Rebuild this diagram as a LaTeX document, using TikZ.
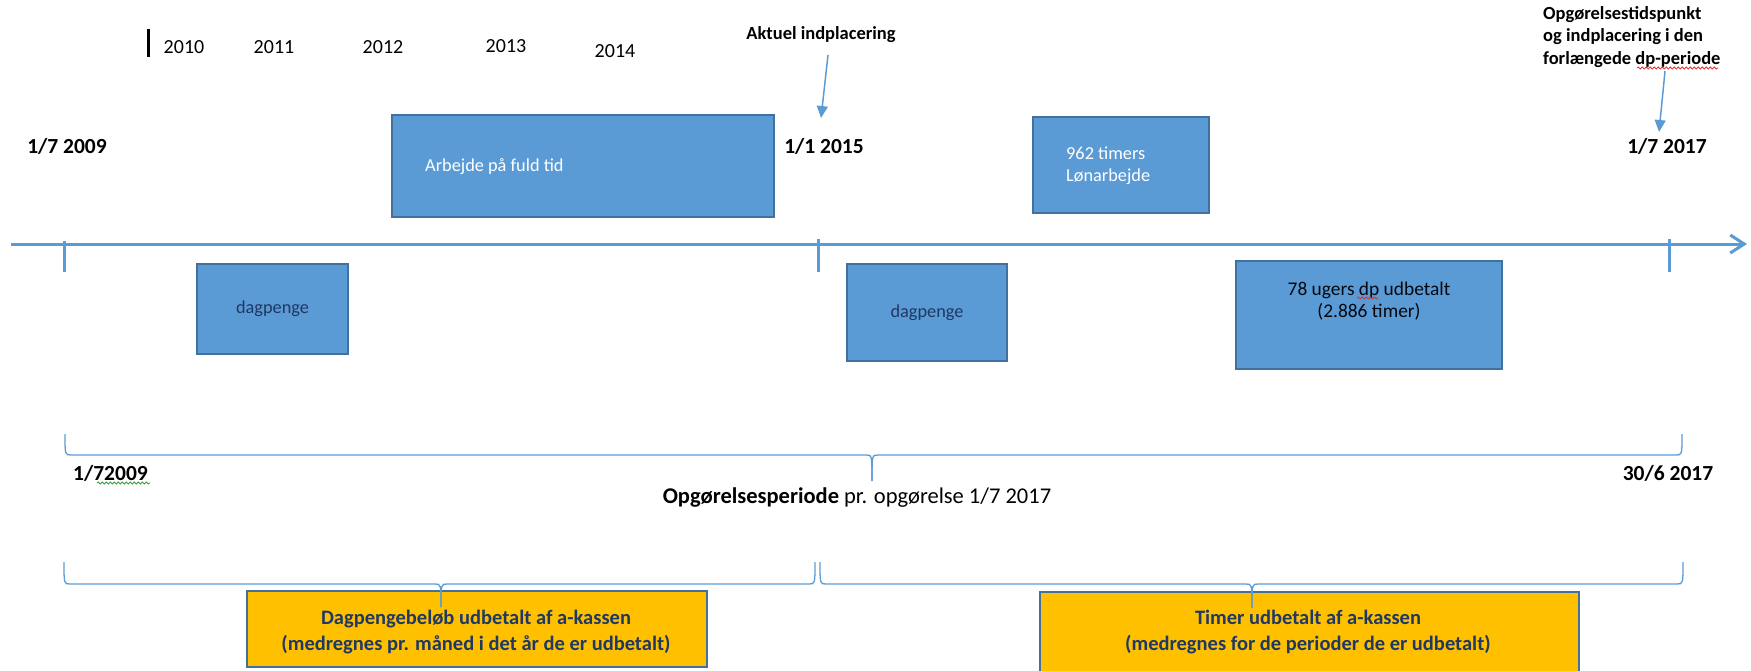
\documentclass[tikz,border=0pt]{standalone}
\usepackage{fontspec}
\setmainfont{Carlito}
\usetikzlibrary{arrows.meta,decorations.pathmorphing}
\definecolor{axisblue}{HTML}{5B9BD5}
\definecolor{boxblue}{HTML}{5B9BD5}
\definecolor{boxedge}{HTML}{41719C}
\definecolor{orangefill}{HTML}{FFC000}
\definecolor{navy}{HTML}{1F3864}
\definecolor{spellred}{HTML}{E03030}
\definecolor{spellgreen}{HTML}{3A9A3A}
\begin{document}
\begin{tikzpicture}[x=1pt,y=-1pt,
  bluebox/.style={draw=boxedge, fill=boxblue, line width=1.5pt, inner sep=0pt},
  orangebox/.style={draw=boxedge, fill=orangefill, line width=1.5pt, inner sep=0pt},
  datelbl/.style={font=\bfseries\fontsize{21.5}{24}\selectfont, inner sep=0pt},
  yearlbl/.style={font=\fontsize{20}{24}\selectfont, inner sep=0pt},
  notelbl/.style={font=\bfseries\fontsize{18.5}{22}\selectfont, inner sep=0pt, align=left},
  boxtxt/.style={font=\fontsize{18.3}{22}\selectfont, inner sep=0pt},
  orangetxt/.style={font=\bfseries\fontsize{20.5}{26}\selectfont, inner sep=0pt, align=center, text=navy},
  brace/.style={draw=axisblue, line width=1.3pt},
  pointer/.style={draw=axisblue, line width=1.5pt, -{Triangle[length=12pt,width=11pt]}},
  tick/.style={draw=axisblue, line width=3pt},
  squiggle/.style={decorate, decoration={snake, segment length=4pt, amplitude=1.1pt}, line width=0.8pt}
]
\path[use as bounding box, clip] (0,0) rectangle (1751,670);

% years
\draw[line width=3pt, black] (148,29) -- (148,57);
\node[yearlbl] (y2010) at (184,47) {2010};
\node[yearlbl] (y2011) at (274,47) {2011};
\node[yearlbl] (y2012) at (383,47) {2012};
\node[yearlbl] (y2013) at (506,46) {2013};
\node[yearlbl] (y2014) at (615,51) {2014};

% annotations
\node[notelbl] (aktuel) at (821,35) {Aktuel indplacering};
\node[notelbl, anchor=north west, font=\bfseries\fontsize{18.5}{22.5}\selectfont] (opg) at (1543,6) {Opgørelsestidspunkt\\og indplacering i den\\forlængede dp-periode};

% dates
\node[datelbl] (d2009) at (67,146) {1/7 2009};
\node[datelbl] (d2015) at (824,146) {1/1 2015};
\node[datelbl] (d2017) at (1667,146) {1/7 2017};

\coordinate (aktstart) at (828,55);
\coordinate (aktend) at (821,118);
\draw[pointer] (aktstart) -- (aktend);
\coordinate (opgstart) at (1665,71);
\coordinate (opgend) at (1659,132);
\draw[pointer] (opgstart) -- (opgend);

% upper boxes
\node[bluebox, minimum width=382pt, minimum height=102pt] (arbejde) at (583,166) {};
\node[boxtxt, anchor=west, text=white] (arbejdetxt) at (425,167) {Arbejde på fuld tid};
\node[bluebox, minimum width=176pt, minimum height=96pt] (timers) at (1121,165) {};
\node[boxtxt, anchor=west, text=white, align=left] (timerstxt) at (1066,166) {962 timers\\Lønarbejde};

% axis
\coordinate (axstart) at (11,244);
\coordinate (axend) at (1747,244);
\draw[draw=axisblue, line width=3pt, -{Straight Barb[length=14pt,width=18pt]}] (axstart) -- (axend);
\draw[tick] (64,241) -- (64,272);
\draw[tick] (818,239) -- (818,272);
\draw[tick] (1669,239) -- (1669,272);

% lower boxes
\node[bluebox, minimum width=151pt, minimum height=90pt, boxtxt, text=navy] (dag1) at (272.5,309) {dagpenge};
\node[bluebox, minimum width=160pt, minimum height=97pt, boxtxt, text=navy] (dag2) at (927,312.5) {dagpenge};
\node[bluebox, minimum width=266pt, minimum height=108pt] (uger) at (1369,315) {};
\node[boxtxt, align=center, text=black!85!navy, font=\fontsize{19.4}{22}\selectfont] (ugertxt) at (1369,301) {78 ugers dp udbetalt\\(2.886 timer)};
\draw[squiggle, spellred] (1357,298) -- (1378,298);

% brace 1
\draw[brace] (65,434) .. controls (65,455) .. (71,455) -- (866,455) .. controls (872,455) .. (872,481);
\draw[brace] (1682,434) .. controls (1682,455) .. (1676,455) -- (878,455) .. controls (872,455) .. (872,481);
\node[datelbl, anchor=west] (p2009) at (73,473) {1/72009};
\draw[squiggle, spellgreen] (97,483) -- (150,483);
\node[datelbl] (p2017) at (1668,473) {30/6 2017};
\node[inner sep=0pt, font=\fontsize{22.5}{26}\selectfont] (periode) at (857,498) {\textbf{Opgørelsesperiode} pr. opgørelse 1/7 2017};

\draw[squiggle, spellred] (1637,68) -- (1718,68);

% orange boxes
\node[orangebox, minimum width=460pt, minimum height=76pt] (dagbelob) at (477,629) {};
\node[orangetxt] (dagbelobtxt) at (476,632) {Dagpengebeløb udbetalt af a-kassen\\(medregnes pr. måned i det år de er udbetalt)};
\node[orangebox, minimum width=539pt, minimum height=96pt] (timer) at (1309.5,640) {};
\node[orangetxt] (timertxt) at (1308,632) {Timer udbetalt af a-kassen\\(medregnes for de perioder de er udbetalt)};

% brace 2 and 3
\draw[brace] (64,562) .. controls (64,584) .. (70,584) -- (435,584) .. controls (441,584) .. (441,607);
\draw[brace] (815,562) .. controls (815,584) .. (809,584) -- (447,584) .. controls (441,584) .. (441,607);
\draw[brace] (820,562) .. controls (820,584) .. (826,584) -- (1246,584) .. controls (1252,584) .. (1252,608);
\draw[brace] (1683,562) .. controls (1683,584) .. (1677,584) -- (1258,584) .. controls (1252,584) .. (1252,608);
\end{tikzpicture}
\end{document}
